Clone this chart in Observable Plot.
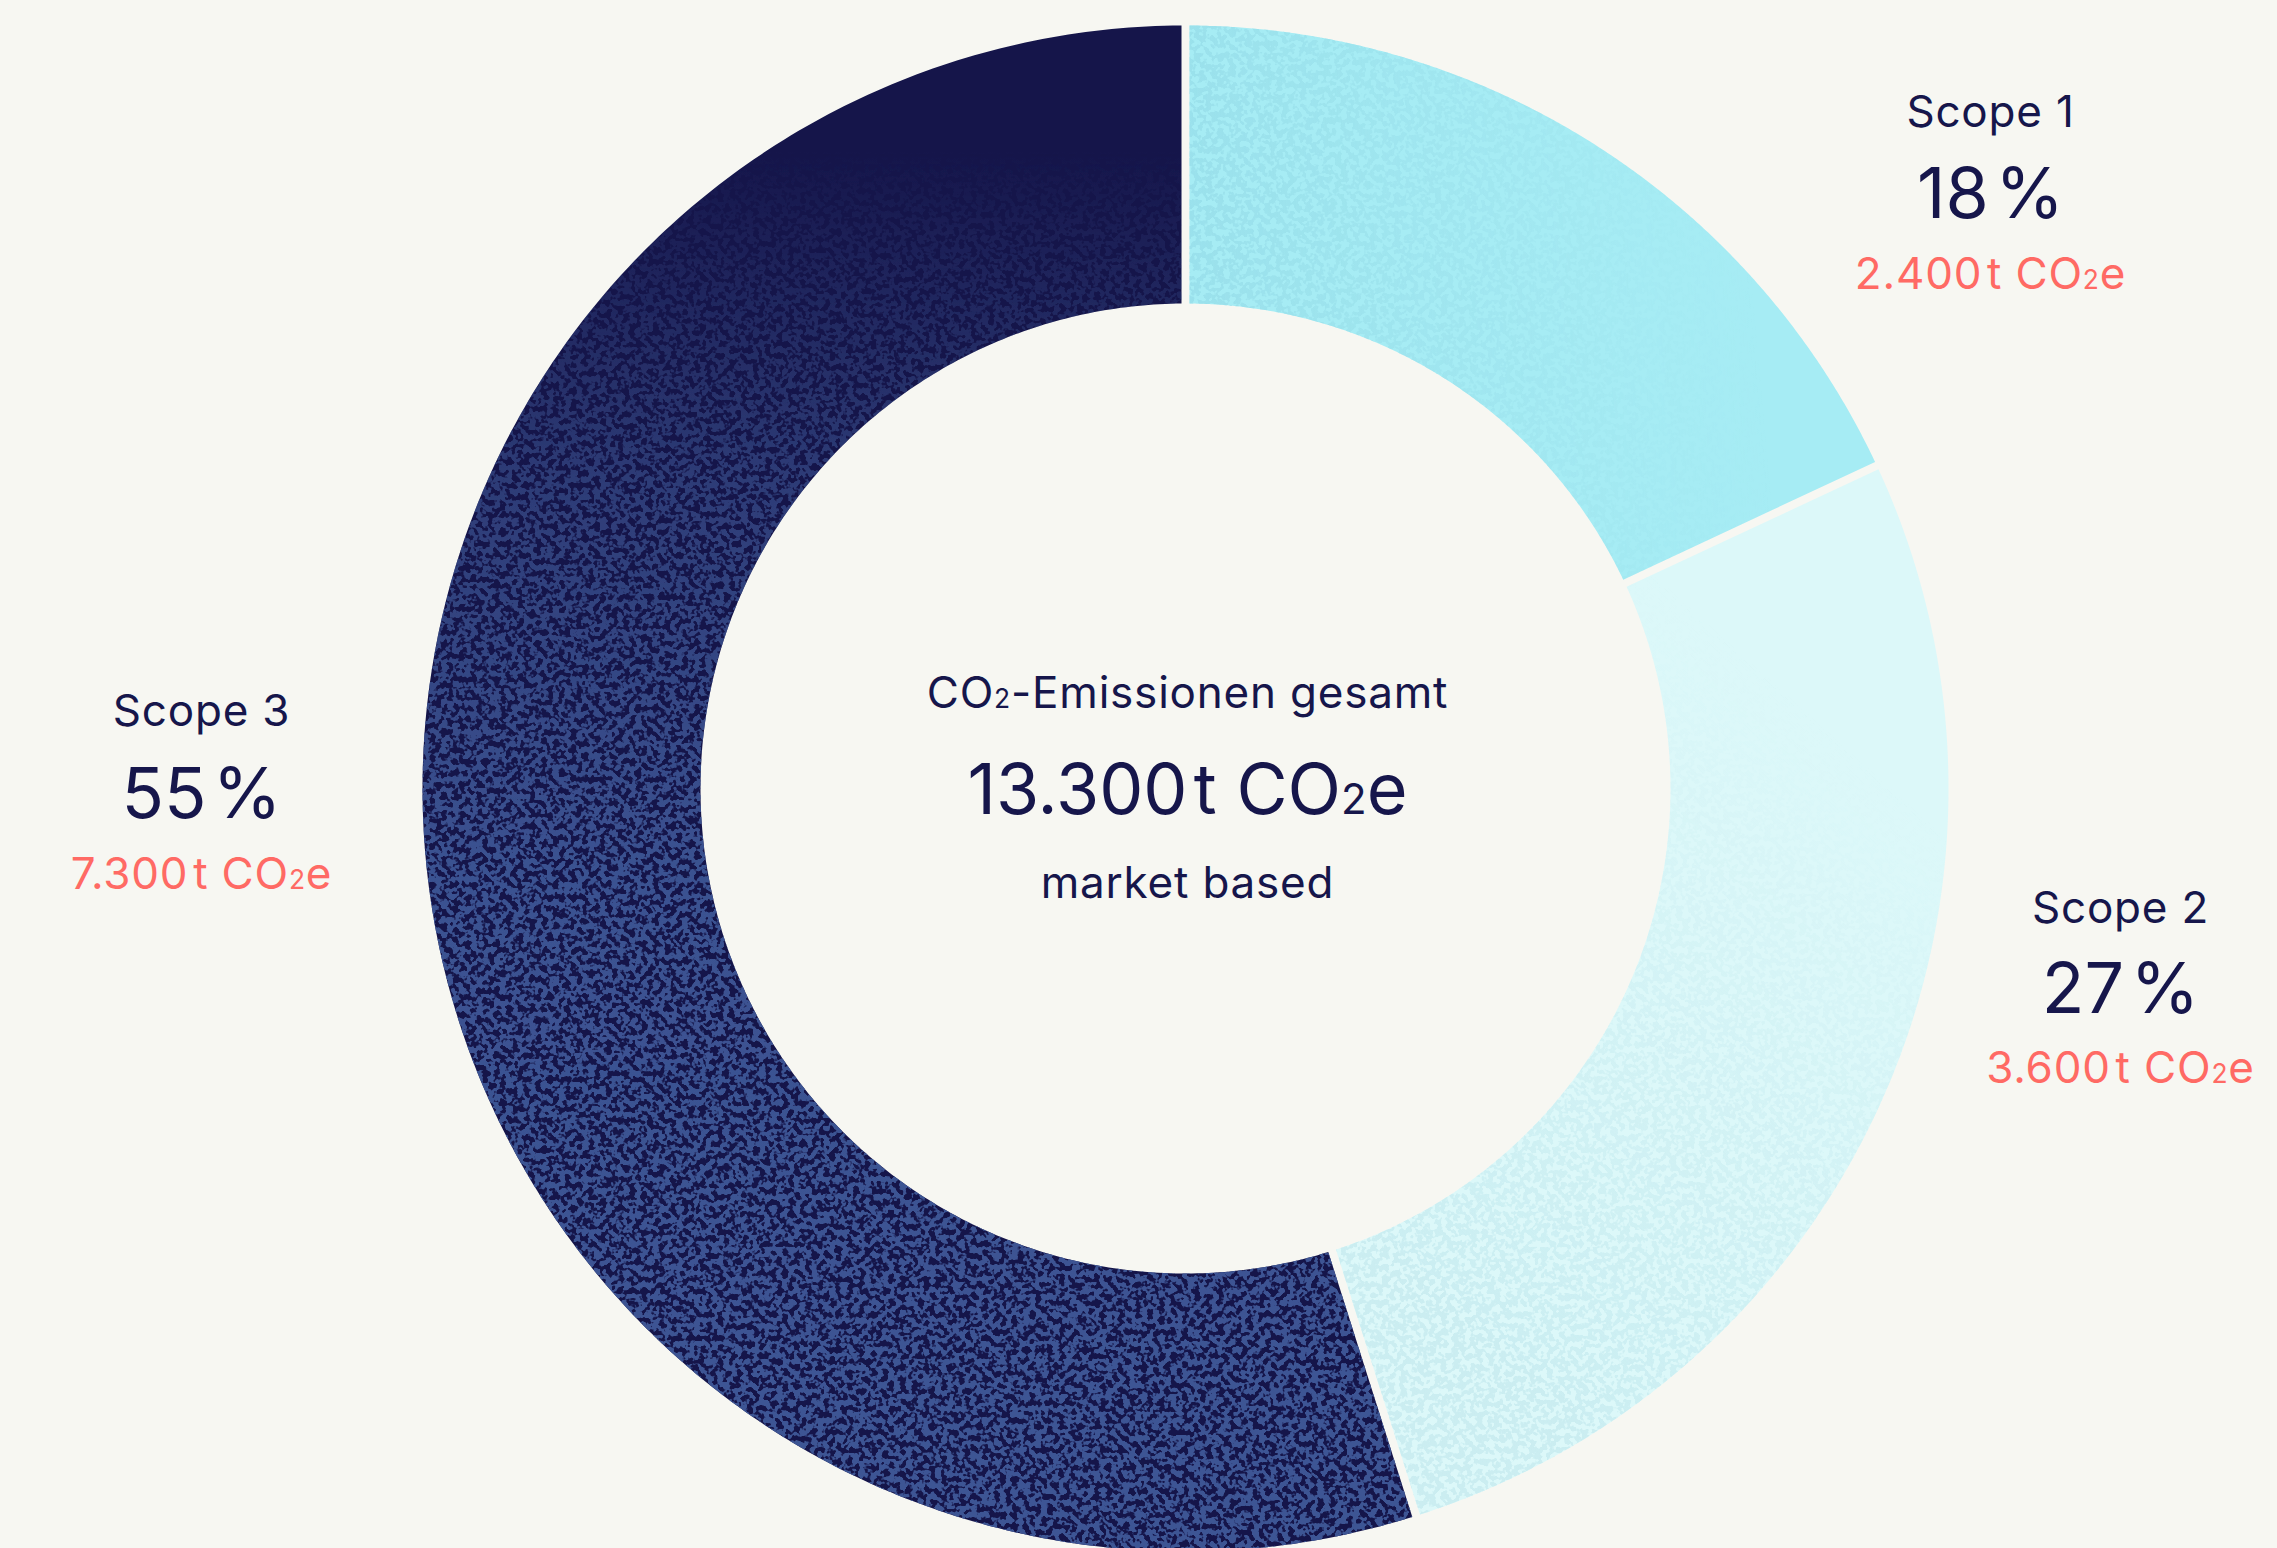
<!DOCTYPE html>
<html><head><meta charset="utf-8">
<script src="https://cdn.jsdelivr.net/npm/d3@7"></script>
<script src="https://cdn.jsdelivr.net/npm/@observablehq/plot@0.6"></script>
<style>
html,body{margin:0;padding:0;background:#F7F7F2;overflow:hidden}
#chart svg{display:block}
</style></head><body><div id="chart"></div>
<script>
// ---- data ----
const scopes = ["Scope 1", "Scope 2", "Scope 3"];
const emissions = [2400, 3600, 7300]; // t CO2e (market based)
const centerTitle = "CO₂-Emissionen gesamt";
const centerNote = "market based";
const unit = "t CO₂e";

// ---- layout & style ----
const W = 2277, H = 1548;
const cx = 1185, cy = 788, R = 763, r = 485, halfGap = 4;
const labelAnchors = [[1990, 126, 217, 288], [2120, 922, 1012, 1082], [201, 725, 817, 888]];
const centerAnchor = [1187, 707, 813, 897];
const navy = "#16164B", salmon = "#FF6A64";
const sliceColors = ["#A6ECF4", "#DCF8F9", "#15154A"];
const textureColors = ["#95DCE8", "#C9EDF1", "#3D5594"];
const small = 44, big = 70;

const de = d3.formatLocale({decimal: ",", thousands: ".", grouping: [3], currency: ["", "€"]});
const fmt = de.format(",d");
const total = d3.sum(emissions);
const HAIR = "\u200A";

const angles = [0, ...d3.cumsum(emissions)].map(v => v / total * 2 * Math.PI);
function slicePoints(i) {
  const a0 = angles[i], a1 = angles[i + 1];
  const pts = [], n = 300;
  const oo = Math.asin(halfGap / R), io = Math.asin(halfGap / r);
  for (let k = 0; k <= n; k++) { const a = a0 + oo + (a1 - a0 - 2 * oo) * k / n; pts.push({x: R * Math.sin(a), y: -R * Math.cos(a)}); }
  for (let k = n; k >= 0; k--) { const a = a0 + io + (a1 - a0 - 2 * io) * k / n; pts.push({x: r * Math.sin(a), y: -r * Math.cos(a)}); }
  return pts;
}

const labelData = scopes.map((s, i) => ({
  i, name: s,
  pct: Math.round(emissions[i] / total * 100) + HAIR + "%",
  amt: fmt(emissions[i]) + HAIR + unit
}));
const centerData = [{title: centerTitle, value: fmt(total) + HAIR + unit, note: centerNote}];

const marks = [];
scopes.forEach((s, i) => {
  const pts = slicePoints(i);
  marks.push(Plot.line(pts, {x: "x", y: "y", curve: "linear-closed", fill: sliceColors[i], stroke: "none"}));
  marks.push(Plot.line(pts, {x: "x", y: "y", curve: "linear-closed", fill: textureColors[i], stroke: "none"}));
});
const lx = d => labelAnchors[d.i][0] - cx;
const common = {lineAnchor: "bottom", textAnchor: "middle"};
marks.push(Plot.text(labelData, {...common, x: lx, y: d => labelAnchors[d.i][1] - cy, text: "name", fontSize: small, fill: navy}));
marks.push(Plot.text(labelData, {...common, x: lx, y: d => labelAnchors[d.i][2] - cy, text: "pct", fontSize: big, fill: navy}));
marks.push(Plot.text(labelData, {...common, x: lx, y: d => labelAnchors[d.i][3] - cy, text: "amt", fontSize: small, fill: salmon}));
marks.push(Plot.text(centerData, {...common, x: centerAnchor[0] - cx, y: centerAnchor[1] - cy, text: "title", fontSize: small, fill: navy}));
marks.push(Plot.text(centerData, {...common, x: centerAnchor[0] - cx, y: centerAnchor[2] - cy, text: "value", fontSize: big, fill: navy}));
marks.push(Plot.text(centerData, {...common, x: centerAnchor[0] - cx, y: centerAnchor[3] - cy, text: "note", fontSize: small, fill: navy}));

const svg = Plot.plot({
  width: W, height: H,
  margin: 0,
  x: {domain: [-cx, W - cx], range: [0, W], axis: null},
  y: {domain: [-cy, H - cy], range: [0, H], axis: null},
  style: {background: "#F7F7F2", fontFamily: "Inter, 'Noto Sans', sans-serif"},
  marks
});
document.getElementById("chart").appendChild(svg);

// ---- texture overlays (gradient-masked noise) ----
const S = d3.select(svg);
const defs = S.insert("defs", ":first-child");
function grad(id, x1, y1, x2, y2, color, stops) {
  const g = defs.append("linearGradient").attr("id", id).attr("gradientUnits", "userSpaceOnUse")
    .attr("x1", x1).attr("y1", y1).attr("x2", x2).attr("y2", y2);
  stops.forEach(([o, op]) => g.append("stop").attr("offset", o).attr("stop-color", color).attr("stop-opacity", op));
}
grad("tex0", 1190, 300, 1750, 250, textureColors[0], [[0, 0.7], [1, 0]]);
grad("tex1", 1400, 1250, 1850, 750, textureColors[1], [[0, 0.9], [0.5, 0.5], [1, 0]]);
grad("tex2", 0, 150, 0, 1450, textureColors[2], [[0, 0], [0.25, 0.6], [0.55, 0.95], [1, 1]]);
const f = defs.append("filter").attr("id", "noise").attr("filterUnits", "userSpaceOnUse")
  .attr("x", 0).attr("y", 0).attr("width", W).attr("height", H);
f.append("feTurbulence").attr("type", "fractalNoise").attr("baseFrequency", 0.17).attr("numOctaves", 2).attr("seed", 7).attr("result", "n");
f.append("feColorMatrix").attr("in", "n").attr("type", "matrix")
  .attr("values", "0 0 0 0 0  0 0 0 0 0  0 0 0 0 0  14 0 0 0 -6.3").attr("result", "m");
f.append("feComposite").attr("in", "SourceGraphic").attr("in2", "m").attr("operator", "in");
const lineGroups = S.selectAll('g[aria-label="line"]').nodes();
[0, 1, 2].forEach(i => {
  const g = d3.select(lineGroups[2 * i + 1]);
  g.attr("fill", `url(#tex${i})`).attr("filter", "url(#noise)");
  g.selectAll("path").attr("fill", `url(#tex${i})`);
});
const textGroups = S.selectAll('g[aria-label="text"]').nodes();
[0, 2, 3, 5].forEach(k => d3.select(textGroups[k]).attr("letter-spacing", "0.8px"));

// small baseline "2" in CO2
S.selectAll("text").each(function () {
  const t = this.textContent;
  if (!t.includes("₂") || this.children.length) return;
  const parts = t.split("₂");
  this.textContent = "";
  parts.forEach((p, k) => {
    if (k > 0) {
      const s = document.createElementNS("http://www.w3.org/2000/svg", "tspan");
      s.setAttribute("font-size", "0.6em");
      s.textContent = "2";
      this.appendChild(s);
    }
    const s2 = document.createElementNS("http://www.w3.org/2000/svg", "tspan");
    s2.textContent = p;
    this.appendChild(s2);
  });
});
</script></body></html>
